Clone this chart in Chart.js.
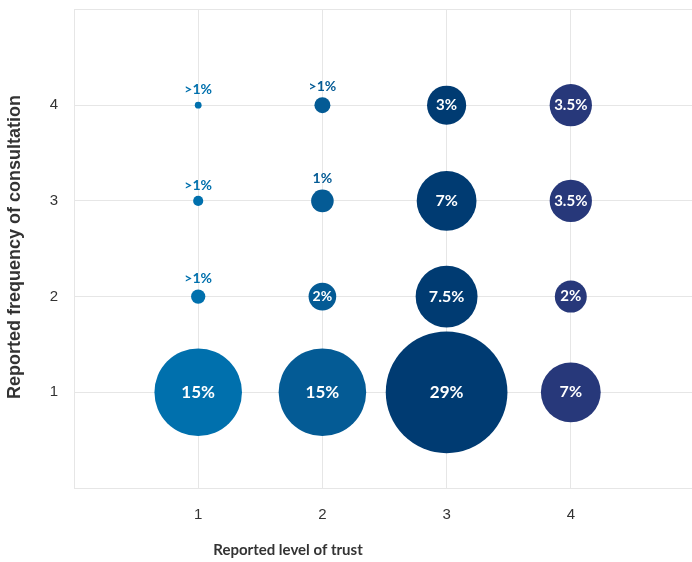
<!DOCTYPE html>
<html>
<head>
<meta charset="utf-8">
<script src="https://cdn.jsdelivr.net/npm/chart.js@4/dist/chart.umd.min.js"></script>
<style>
  html, body { margin: 0; padding: 0; background: #fff; overflow: hidden; }
  #wrap { width: 696px; height: 562px; }
</style>
</head>
<body>
<div id="wrap"><canvas id="c" width="696" height="562"></canvas></div>
<script>
// Categories
const trustLevels = [1, 2, 3, 4];            // x: reported level of trust
const frequencies = [1, 2, 3, 4];            // y: reported frequency of consultation
const xTickLabels = ['1', '2', '3', '4'];
const yTickLabels = ['1', '2', '3', '4'];

// Bubble sizes (share, %), one array per trust level, ordered by frequency 1..4
const sizeTrust1 = [15, 0.4, 0.2, 0.09];
const sizeTrust2 = [15, 1.5, 1, 0.5];
const sizeTrust3 = [29, 7.5, 7, 3];
const sizeTrust4 = [7, 2, 3.5, 3.5];

// Printed labels
const labelTrust1 = ['15%', '>1%', '>1%', '>1%'];
const labelTrust2 = ['15%', '2%', '1%', '>1%'];
const labelTrust3 = ['29%', '7.5%', '7%', '3%'];
const labelTrust4 = ['7%', '2%', '3.5%', '3.5%'];

const colors = ['#0070AD', '#045B95', '#003B72', '#27387A'];
const sizes = [sizeTrust1, sizeTrust2, sizeTrust3, sizeTrust4];
const labels = [labelTrust1, labelTrust2, labelTrust3, labelTrust4];
const RADIUS_SCALE = 11.3;

const datasets = trustLevels.map((t, i) => ({
  label: 'Trust ' + t,
  data: frequencies.map((f, j) => ({ x: t, y: f, r: RADIUS_SCALE * Math.sqrt(sizes[i][j]), lbl: labels[i][j] })),
  backgroundColor: colors[i],
  hoverBackgroundColor: colors[i],
  borderWidth: 0,
  hoverBorderWidth: 0,
  hoverRadius: 0,
  clip: false
}));

const labelPlugin = {
  id: 'bubbleLabels',
  afterDatasetsDraw(chart) {
    const ctx = chart.ctx;
    chart.data.datasets.forEach((ds, i) => {
      const meta = chart.getDatasetMeta(i);
      meta.data.forEach((el, j) => {
        const r = ds.data[j].r;
        const txt = ds.data[j].lbl;
        ctx.save();
        ctx.textAlign = 'center';
        ctx.textBaseline = 'middle';
        if (r < 12) {
          ctx.fillStyle = ds.backgroundColor;
          ctx.font = 'bold 14px Lato';
          const off = Math.max(15.5, r + 10.7);
          ctx.fillText(txt, el.x, el.y - off);
        } else {
          ctx.fillStyle = '#ffffff';
          let fs = 14;
          if (r >= 40) fs = 17; else if (r >= 25) fs = 16; else if (r >= 15) fs = 15;
          ctx.font = 'bold ' + fs + 'px Lato';
          ctx.fillText(txt, el.x, el.y);
        }
        ctx.restore();
      });
    });
    // axis titles
    ctx.save();
    ctx.fillStyle = '#333333';
    ctx.textAlign = 'center';
    ctx.textBaseline = 'middle';
    ctx.font = 'bold 15px Lato';
    ctx.fillText('Reported level of trust', 288, 550);
    ctx.translate(15, 247);
    ctx.rotate(-Math.PI / 2);
    ctx.font = 'bold 18px "Liberation Sans"';
    ctx.fillText('Reported frequency of consultation', 0, 0);
    ctx.restore();
  }
};

const gridColor = '#e6e6e6';
function zeroPad(s) { s.paddingTop = 0; s.paddingBottom = 0; s.paddingLeft = 0; s.paddingRight = 0; }

new Chart(document.getElementById('c'), {
  type: 'bubble',
  data: { datasets },
  options: {
    responsive: false,
    animation: false,
    events: [],
    layout: { autoPadding: false, padding: { top: 9.5, right: 1, left: 0, bottom: 0 } },
    plugins: { legend: { display: false }, tooltip: { enabled: false } },
    scales: {
      x: {
        type: 'linear', min: 0, max: 5,
        afterFit(s) { s.height = 74; zeroPad(s); },
        grid: { color: gridColor, drawTicks: false },
        border: { color: gridColor },
        ticks: {
          stepSize: 1, padding: 18, color: '#333',
          font: { family: 'Liberation Sans', size: 15 },
          callback: v => (v >= 1 && v <= 4) ? xTickLabels[v - 1] : ''
        }
      },
      y: {
        type: 'linear', min: 0, max: 5,
        afterFit(s) { s.width = 74; zeroPad(s); },
        grid: { color: gridColor, drawTicks: false },
        border: { color: gridColor },
        ticks: {
          stepSize: 1, padding: 16, color: '#333',
          font: { family: 'Liberation Sans', size: 15 },
          callback: v => (v >= 1 && v <= 4) ? yTickLabels[v - 1] : ''
        }
      }
    }
  },
  plugins: [labelPlugin]
});
</script>
</body>
</html>
